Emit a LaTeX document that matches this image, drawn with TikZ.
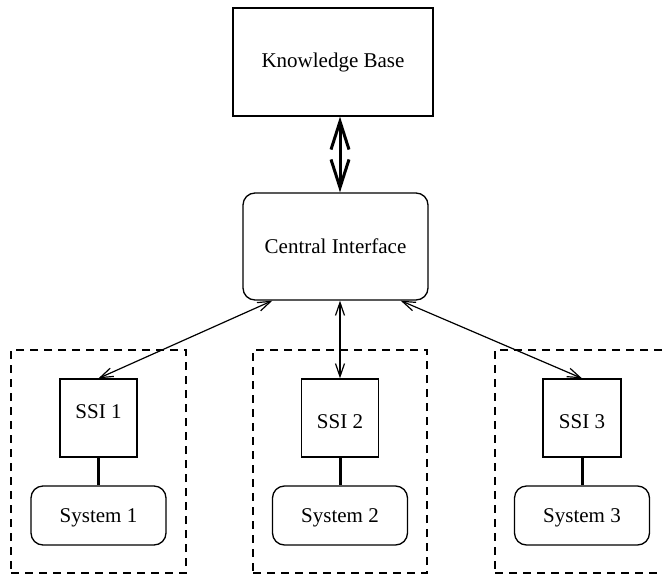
\documentclass[tikz,border=0pt]{standalone}
\usepackage{fontspec}
\setmainfont{Liberation Serif}
\usetikzlibrary{arrows.meta,calc}
\begin{document}
\begin{tikzpicture}[x=1pt,y=-1pt,
  every node/.style={font=\fontsize{21}{25}\selectfont, inner sep=0pt},
  every label/.style={font=\fontsize{21}{25}\selectfont, inner sep=0pt},
  boxsq/.style={draw, line width=1.3pt},
  boxrnd/.style={draw, line width=1.3pt, rounded corners=12pt},
  group/.style={draw, dashed, line width=1.3pt, dash pattern=on 8pt off 6pt},
  thinarr/.style={line width=1.2pt, {Straight Barb[length=13pt,width=9pt]}-{Straight Barb[length=13pt,width=9pt]}},
  thickarr/.style={line width=3pt, {Straight Barb[length=28pt,width=18pt]}-{Straight Barb[length=28pt,width=18pt]}},
  link/.style={line width=3pt}]
\useasboundingbox (0,0) rectangle (663,578);
\clip (0,0) rectangle (663,578);
\node[boxsq, minimum width=200pt, minimum height=108pt] (kb) at (333,62) {Knowledge Base};
\node[boxrnd, minimum width=185pt, minimum height=107pt] (ci) at (335.5,246.5) {Central Interface};
\node[group, minimum width=175pt, minimum height=223pt] (grp1) at (98.5,461.5) {};
\node[group, minimum width=174pt, minimum height=223pt] (grp2) at (340,461.5) {};
\node[group, minimum width=175pt, minimum height=223pt] (grp3) at (582.5,461.5) {};
\node[boxsq, minimum width=77pt, minimum height=78pt, label={[yshift=6pt]center:SSI 1}] (ssi1) at (98.5,418) {};
\node[boxsq, minimum width=77pt, minimum height=78pt, label={[yshift=-4pt]center:SSI 2}] (ssi2) at (340,418) {};
\node[boxsq, minimum width=78pt, minimum height=78pt, label={[yshift=-4pt]center:SSI 3}] (ssi3) at (582,418) {};
\node[boxrnd, minimum width=135pt, minimum height=59pt, label={[yshift=-2pt]center:System 1}] (sys1) at (98.5,515.5) {};
\node[boxrnd, minimum width=135pt, minimum height=59pt, label={[yshift=-2pt]center:System 2}] (sys2) at (340,515.5) {};
\node[boxrnd, minimum width=135pt, minimum height=59pt, label={[yshift=-2pt]center:System 3}] (sys3) at (582,515.5) {};
\draw[thickarr] (kb.south -| ssi2.north) -- (ci.north -| ssi2.north);
\draw[thinarr] ($(ci.south west)+(30,0)$) -- (ssi1.north);
\draw[thinarr] (ci.south -| ssi2.north) -- (ssi2.north);
\draw[thinarr] ($(ci.south east)+(-28,0)$) -- (ssi3.north);
\draw[link] (ssi1.south) -- (sys1.north);
\draw[link] (ssi2.south) -- (sys2.north);
\draw[link] (ssi3.south) -- (sys3.north);
\end{tikzpicture}
\end{document}
